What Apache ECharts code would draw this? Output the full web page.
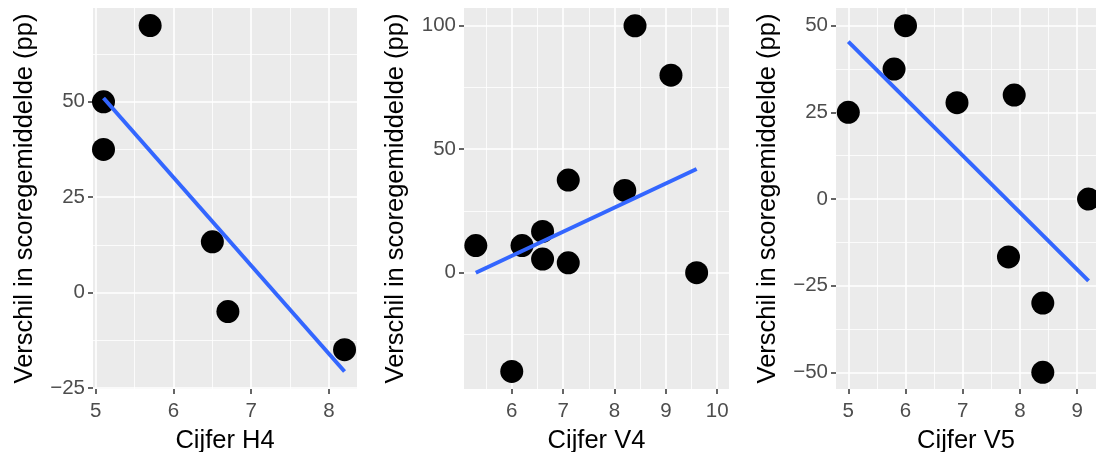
<!DOCTYPE html>
<html lang="nl">
<head>
<meta charset="UTF-8" />
<title>Verschil in scoregemiddelde</title>
<script src="https://cdn.jsdelivr.net/npm/echarts@6/dist/echarts.min.js"></script>
<style>
  html, body { margin: 0; padding: 0; background: #ffffff; }
  #chart { width: 1096px; height: 452px; }
</style>
</head>
<body>
<div id="chart"></div>
<script>
// --- data ---
// panel 1: Cijfer H4
const h4X = [5.1, 5.1, 5.7, 6.5, 6.7, 8.2];
const h4Y = [50, 37.5, 70, 13.3, -5, -15];
const h4FitX = [5.1, 8.2];
const h4FitY = [51, -20.7];
const h4XTicks = [5, 6, 7, 8];
const h4XMinor = [5.5, 6.5, 7.5];
const h4YTicks = [-25, 0, 25, 50];
const h4YMinor = [-12.5, 12.5, 37.5, 62.5];

// panel 2: Cijfer V4
const v4X = [5.3, 6.0, 6.2, 6.6, 6.6, 7.1, 7.1, 8.2, 8.4, 9.1, 9.6];
const v4Y = [11, -40, 11, 16.7, 5.5, 37.5, 4, 33.3, 100, 80, 0];
const v4FitX = [5.3, 9.6];
const v4FitY = [0, 42];
const v4XTicks = [6, 7, 8, 9, 10];
const v4XMinor = [5.5, 6.5, 7.5, 8.5, 9.5];
const v4YTicks = [0, 50, 100];
const v4YMinor = [-25, 25, 75];

// panel 3: Cijfer V5
const v5X = [5.0, 5.8, 6.0, 6.9, 7.9, 7.8, 8.4, 8.4, 9.2];
const v5Y = [25, 37.5, 50, 27.8, 30, -16.7, -30, -50, 0];
const v5FitX = [5.0, 9.2];
const v5FitY = [45.4, -23.6];
const v5XTicks = [5, 6, 7, 8, 9];
const v5XMinor = [5.5, 6.5, 7.5, 8.5];
const v5YTicks = [-50, -25, 0, 25, 50];
const v5YMinor = [-37.5, -12.5, 12.5, 37.5];

const yTitle = 'Verschil in scoregemiddelde (pp)';
const FONT = "'Liberation Sans', Arial, Helvetica, sans-serif";

const panels = [
  { name: 'Cijfer H4', x: h4X, y: h4Y, fx: h4FitX, fy: h4FitY,
    xt: h4XTicks, xm: h4XMinor, yt: h4YTicks, ym: h4YMinor,
    xr: [4.965, 8.36], yr: [-25.3, 74.6],
    grid: { left: 93, top: 8, width: 264, height: 381 } },
  { name: 'Cijfer V4', x: v4X, y: v4Y, fx: v4FitX, fy: v4FitY,
    xt: v4XTicks, xm: v4XMinor, yt: v4YTicks, ym: v4YMinor,
    xr: [5.07, 10.23], yr: [-47.1, 107.2],
    grid: { left: 464, top: 8, width: 265, height: 381 } },
  { name: 'Cijfer V5', x: v5X, y: v5Y, fx: v5FitX, fy: v5FitY,
    xt: v5XTicks, xm: v5XMinor, yt: v5YTicks, ym: v5YMinor,
    xr: [4.785, 9.33], yr: [-54.8, 55.1],
    grid: { left: 836, top: 8, width: 260, height: 381 } }
];

const fmt = v => String(v).replace('-', '\u2212');

const grids = [], xAxes = [], yAxes = [], series = [];

panels.forEach((p, i) => {
  grids.push(Object.assign({
    show: true, backgroundColor: '#EBEBEB', borderWidth: 0,
    containLabel: false, outerBoundsMode: 'none'
  }, p.grid));

  // main axes
  xAxes.push({
    type: 'value', gridIndex: i, min: p.xr[0], max: p.xr[1], position: 'bottom',
    name: p.name, nameLocation: 'middle', nameGap: 39,
    nameTextStyle: { fontSize: 25.5, color: '#000', fontFamily: FONT },
    axisLine: { show: false, onZero: false },
    axisTick: { show: true, customValues: p.xt, length: 5, lineStyle: { color: '#333', width: 1.5 } },
    axisLabel: { customValues: p.xt, margin: 12, fontSize: 20.5, color: '#4D4D4D', fontFamily: FONT, formatter: fmt },
    splitLine: { show: true, lineStyle: { color: '#FFFFFF', width: 1.6 } }
  });
  yAxes.push({
    type: 'value', gridIndex: i, min: p.yr[0], max: p.yr[1], position: 'left',
    name: yTitle, nameLocation: 'middle', nameGap: 55,
    nameTextStyle: { fontSize: 25.5, color: '#000', fontFamily: FONT },
    axisLine: { show: false, onZero: false },
    axisTick: { show: true, customValues: p.yt, length: 5, lineStyle: { color: '#333', width: 1.5 } },
    axisLabel: { customValues: p.yt, margin: 8, fontSize: 20.5, color: '#4D4D4D', fontFamily: FONT, formatter: fmt },
    splitLine: { show: true, lineStyle: { color: '#FFFFFF', width: 1.6 } }
  });
  // minor grid axes (hidden)
  xAxes.push({
    type: 'value', gridIndex: i, min: p.xr[0], max: p.xr[1], position: 'bottom',
    axisLine: { show: false, onZero: false }, axisLabel: { show: false },
    axisTick: { show: false, customValues: p.xm },
    splitLine: { show: true, lineStyle: { color: '#FFFFFF', width: 0.8 } }
  });
  yAxes.push({
    type: 'value', gridIndex: i, min: p.yr[0], max: p.yr[1], position: 'left',
    axisLine: { show: false, onZero: false }, axisLabel: { show: false },
    axisTick: { show: false, customValues: p.ym },
    splitLine: { show: true, lineStyle: { color: '#FFFFFF', width: 0.8 } }
  });

  series.push({
    type: 'scatter', xAxisIndex: i * 2, yAxisIndex: i * 2,
    data: p.x.map((v, k) => [v, p.y[k]]),
    symbol: 'circle', symbolSize: 23,
    itemStyle: { color: '#000000', opacity: 1 }, z: 3, silent: true
  });
  series.push({
    type: 'line', xAxisIndex: i * 2, yAxisIndex: i * 2,
    data: p.fx.map((v, k) => [v, p.fy[k]]),
    showSymbol: false, lineStyle: { color: '#3366FF', width: 4 },
    z: 4, silent: true
  });
});

const chart = echarts.init(document.getElementById('chart'), null, { renderer: 'canvas' });
chart.setOption({
  animation: false,
  backgroundColor: '#FFFFFF',
  grid: grids,
  xAxis: xAxes,
  yAxis: yAxes,
  series: series
});
</script>
</body>
</html>
